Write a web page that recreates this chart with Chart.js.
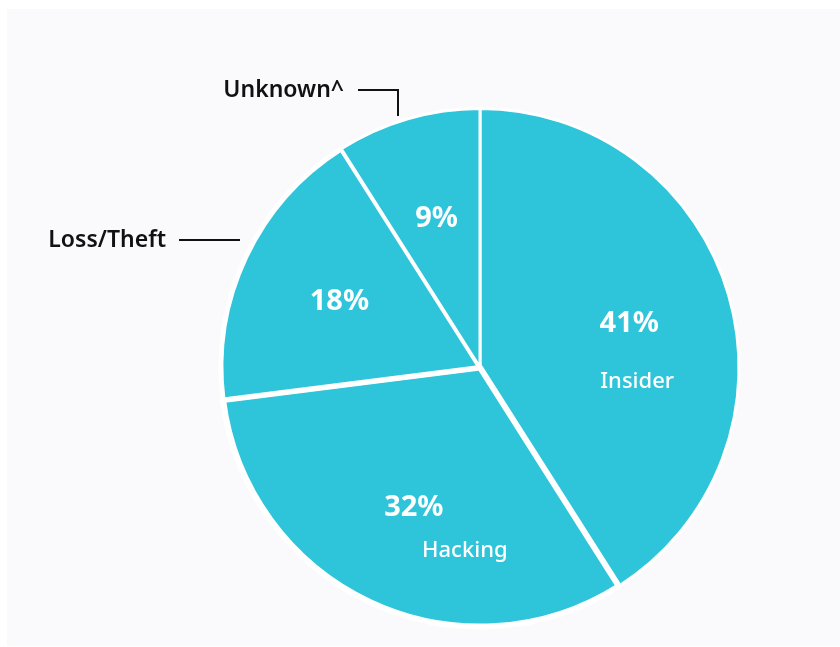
<!DOCTYPE html>
<html>
<head>
<meta charset="utf-8">
<title>Breach sources</title>
<script src="https://cdn.jsdelivr.net/npm/chart.js@4.4.1/dist/chart.umd.min.js"></script>
<style>
    html, body { margin: 0; padding: 0; background: #ffffff; }
    .panel {
        position: absolute;
        left: 7px;
        top: 9px;
        width: 833px;
        height: 637px;
        background: #faf9fc;
    }
    canvas { position: absolute; left: 0; top: 0; }
</style>
</head>
<body>
<div class="panel"></div>
<canvas id="breachChart" width="840" height="647"></canvas>
<script>
// Datos del gráfico
const categories = ['Insider', 'Hacking', 'Loss/Theft', 'Unknown^'];
const shares = [41, 32, 18, 9];
// Etiquetas que van fuera del pastel (con línea guía)
const outsideLabels = ['Loss/Theft', 'Unknown^'];

const TEAL = '#2ec5da';
const FONT = "'Noto Sans', 'Open Sans', sans-serif";

// Dibuja porcentajes dentro de cada porción y los nombres
const sliceLabels = {
    id: 'sliceLabels',
    afterDatasetsDraw(chart) {
        const ctx = chart.ctx;
        const meta = chart.getDatasetMeta(0);
        // desplazamiento del nombre respecto al porcentaje
        const nameOffsets = {
            'Insider': { x: 8, y: 58 },
            'Hacking': { x: 51, y: 43 }
        };

        ctx.save();
        ctx.textAlign = 'center';
        ctx.textBaseline = 'middle';

        meta.data.forEach((arc, i) => {
            const mid = (arc.startAngle + arc.endAngle) / 2;
            const r = arc.outerRadius * 0.6;
            const x = arc.x + Math.cos(mid) * r;
            const y = arc.y + Math.sin(mid) * r;

            ctx.fillStyle = '#ffffff';
            ctx.font = `bold 29px ${FONT}`;
            ctx.fillText(shares[i] + '%', x, y);

            const off = nameOffsets[categories[i]];
            if (off && !outsideLabels.includes(categories[i])) {
                ctx.font = `500 22px ${FONT}`;
                ctx.fillText(categories[i], x + off.x, y + off.y);
            }
        });

        // Etiquetas externas con líneas guía
        ctx.fillStyle = '#111111';
        ctx.strokeStyle = '#111111';
        ctx.lineWidth = 2;
        ctx.font = `600 23px ${FONT}`;
        ctx.textAlign = 'right';

        ctx.fillText('Unknown^', 344, 90);
        ctx.beginPath();
        ctx.moveTo(358, 90);
        ctx.lineTo(398, 90);
        ctx.lineTo(398, 116);
        ctx.stroke();

        ctx.fillText('Loss/Theft', 166, 240);
        ctx.beginPath();
        ctx.moveTo(179, 240);
        ctx.lineTo(240, 240);
        ctx.stroke();

        ctx.restore();
    }
};

new Chart(document.getElementById('breachChart'), {
    type: 'pie',
    data: {
        labels: categories,
        datasets: [{
            data: shares,
            backgroundColor: TEAL,
            borderColor: '#ffffff',
            borderWidth: [3, 6, 5, 3]
        }]
    },
    options: {
        responsive: false,
        animation: false,
        layout: {
            padding: { left: 218, right: 98, top: 105, bottom: 17 }
        },
        plugins: {
            legend: { display: false },
            tooltip: { enabled: false }
        }
    },
    plugins: [sliceLabels]
});
</script>
</body>
</html>
